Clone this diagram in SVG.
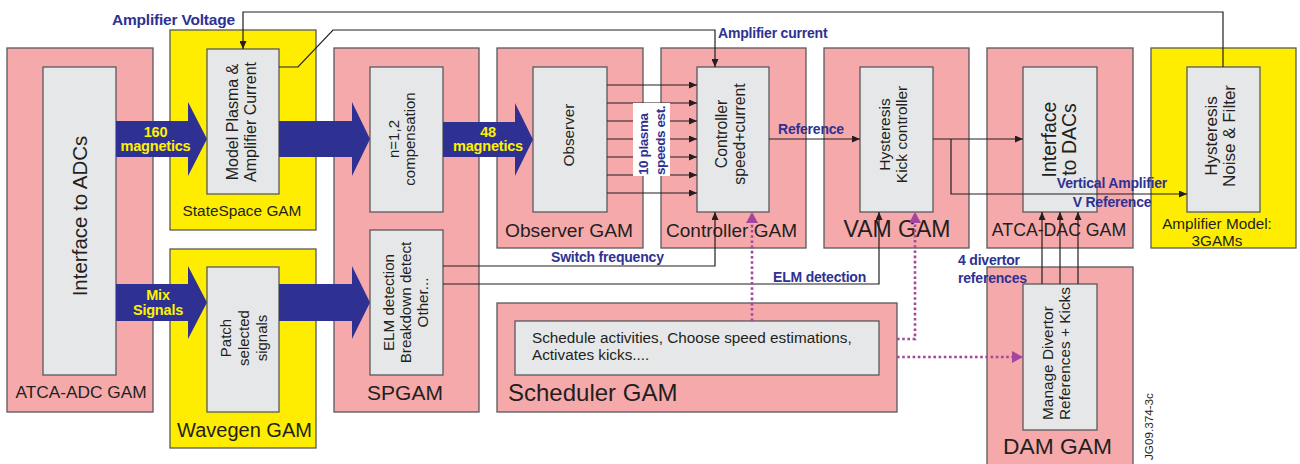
<svg xmlns="http://www.w3.org/2000/svg" width="1300" height="464" viewBox="0 0 1300 464">
<style>
.gam{fill:#F6A9AB;stroke:#58595B;stroke-width:1.3}
.yel{fill:#FFED00;stroke:#58595B;stroke-width:1.3}
.blk{fill:#E6E7E8;stroke:#58595B;stroke-width:1.3}
.big{fill:#2E3192}
.wire{fill:none;stroke:#231F20;stroke-width:1.2;marker-end:url(#ah)}
.dot{fill:none;stroke:#A4479C;stroke-width:2.6;stroke-dasharray:2.6 2.6;marker-end:url(#mh)}
.t{font-family:"Liberation Sans",Arial,sans-serif;fill:#231F20}
.m{text-anchor:middle}
.lbl{font-family:"Liberation Sans",Arial,sans-serif;font-weight:bold;fill:#2E3192;font-size:14px;letter-spacing:-0.2px}
.ylw{font-family:"Liberation Sans",Arial,sans-serif;font-weight:bold;fill:#FFF200;font-size:14.5px;text-anchor:middle;letter-spacing:-0.2px}
</style>
<defs>
<marker id="ah" markerUnits="userSpaceOnUse" markerWidth="8" markerHeight="7" refX="8" refY="3.5" orient="auto"><path d="M0,0 L8,3.5 L0,7 z" fill="#231F20"/></marker>
<marker id="mh" markerUnits="userSpaceOnUse" markerWidth="12" markerHeight="12" refX="11" refY="6" orient="auto"><path d="M0,0 L11,6 L0,12 z" fill="#A4479C"/></marker>
</defs>
<rect width="1300" height="464" fill="#FFFFFF"/>

<g id="atca-adc">
<rect class="gam" x="7" y="48" width="146" height="364"/>
<rect class="blk" x="43" y="67" width="73" height="308"/>
<text class="t m" font-size="20.5" transform="translate(87,216) rotate(-90)">Interface to ADCs</text>
<text class="t m" font-size="17.3" x="81" y="398">ATCA-ADC GAM</text>
</g>

<g id="statespace">
<rect class="yel" x="170" y="30" width="146" height="200"/>
<rect class="blk" x="207" y="49" width="72" height="145"/>
<text class="t m" font-size="16" transform="translate(238,122) rotate(-90)"><tspan x="0" y="0">Model Plasma &amp;</tspan><tspan x="0" dy="18">Amplifier Current</tspan></text>
<text class="t m" font-size="15.4" x="242" y="216">StateSpace GAM</text>
</g>

<g id="wavegen">
<rect class="yel" x="170" y="249" width="146" height="199"/>
<rect class="blk" x="207" y="267" width="72" height="145"/>
<text class="t m" font-size="15" transform="translate(231,338) rotate(-90)"><tspan x="0" y="0">Patch</tspan><tspan x="0" dy="18">selected</tspan><tspan x="0" dy="18">signals</tspan></text>
<text class="t m" font-size="20" x="244.5" y="437">Wavegen GAM</text>
</g>

<g id="spgam">
<rect class="gam" x="334" y="48" width="145" height="364"/>
<rect class="blk" x="370" y="67" width="73" height="145"/>
<text class="t m" font-size="15" transform="translate(399,139) rotate(-90)"><tspan x="0" y="0">n=1,2</tspan><tspan x="0" dy="16">compensation</tspan></text>
<rect class="blk" x="370" y="230" width="73" height="145"/>
<text class="t m" font-size="15.2" transform="translate(394,302.5) rotate(-90)"><tspan x="0" y="0">ELM detection</tspan><tspan x="0" dy="17">Breakdown detect</tspan><tspan x="0" dy="17">Other...</tspan></text>
<text class="t m" font-size="21" x="405" y="400">SPGAM</text>
</g>

<g id="observer">
<rect class="gam" x="497" y="48" width="146" height="200"/>
<rect class="blk" x="533" y="67" width="74" height="145"/>
<text class="t m" font-size="15.3" transform="translate(574,135) rotate(-90)">Observer</text>
<text class="t m" font-size="19.2" x="569" y="237">Observer GAM</text>
</g>

<g id="controller">
<rect class="gam" x="661" y="48" width="145" height="200"/>
<rect class="blk" x="697" y="67" width="72" height="145"/>
<text class="t m" font-size="15.8" transform="translate(727,134) rotate(-90)"><tspan x="0" y="0">Controller</tspan><tspan x="0" dy="18">speed+current</tspan></text>
<text class="t m" font-size="19" x="731.5" y="237">Controller GAM</text>
</g>

<g id="vam">
<rect class="gam" x="824" y="48" width="145" height="200"/>
<rect class="blk" x="860" y="67" width="73" height="145"/>
<text class="t m" font-size="15.5" transform="translate(890,134.5) rotate(-90)"><tspan x="0" y="0">Hysteresis</tspan><tspan x="0" dy="17">Kick controller</tspan></text>
<text class="t m" font-size="23" x="897" y="237">VAM GAM</text>
</g>

<g id="atca-dac">
<rect class="gam" x="987" y="48" width="146" height="200"/>
<rect class="blk" x="1023" y="67" width="74" height="145"/>
<text class="t m" font-size="19.5" transform="translate(1056,139.5) rotate(-90)"><tspan x="0" y="0">Interface</tspan><tspan x="0" dy="20">to DACs</tspan></text>
<text class="t m" font-size="17.7" x="1059" y="236">ATCA-DAC GAM</text>
</g>

<g id="amplifier-model">
<rect class="yel" x="1151" y="48" width="145" height="200"/>
<rect class="blk" x="1187" y="67" width="73" height="145"/>
<text class="t m" font-size="17" transform="translate(1217,136) rotate(-90)"><tspan x="0" y="0">Hysteresis</tspan><tspan x="0" dy="18">Noise &amp; Filter</tspan></text>
<text class="t m" font-size="15.3" x="1217" y="229"><tspan x="1217" y="229">Amplifier Model:</tspan><tspan x="1217" y="246">3GAMs</tspan></text>
</g>

<g id="scheduler">
<rect class="gam" x="497" y="303" width="400" height="109"/>
<rect class="blk" x="515" y="321" width="364" height="54"/>
<text class="t" font-size="15.3" x="532" y="343"><tspan x="532" y="343">Schedule activities, Choose speed estimations,</tspan><tspan x="532" y="360">Activates kicks....</tspan></text>
<text class="t" font-size="24" x="508" y="401">Scheduler GAM</text>
</g>

<g id="dam">
<rect class="gam" x="987" y="267" width="146" height="205"/>
<rect class="blk" x="1023" y="284" width="74" height="146"/>
<text class="t" font-size="15.4" transform="translate(1053,420) rotate(-90)"><tspan x="0" y="0">Manage Divertor</tspan><tspan x="0" dy="17">References + Kicks</tspan></text>
<text class="t m" font-size="22.8" x="1057.5" y="454">DAM GAM</text>
</g>

<g id="connectors">
<polygon class="big" points="116,121 188,121 188,102 207,139 188,176 188,157 116,157"/>
<polygon class="big" points="279,121 352,121 352,102 370,139 352,176 352,157 279,157"/>
<polygon class="big" points="443,122 515,122 515,103 533,139.5 515,176 515,157 443,157"/>
<polygon class="big" points="116,284 188,284 188,266 207,302.5 188,339 188,321 116,321"/>
<polygon class="big" points="279,284 352,284 352,266 370,302.5 352,339 352,321 279,321"/>
<path class="wire" d="M1223,67 V12 H243 V49"/>
<path class="wire" d="M279,67 H298 L333,30 H715 V67"/>
<path class="wire" d="M607,85 H697"/>
<path class="wire" d="M607,103 H697"/>
<path class="wire" d="M607,121 H697"/>
<path class="wire" d="M607,139 H697"/>
<path class="wire" d="M607,157 H697"/>
<path class="wire" d="M607,175 H697"/>
<path class="wire" d="M607,193 H697"/>
<path class="wire" d="M769,139 H860"/>
<path class="wire" d="M933,139 H1023"/>
<path class="wire" d="M951,139 V194 H1187"/>
<path class="wire" d="M443,266 H715 V212"/>
<path class="wire" d="M443,284 H879 V212"/>
<path class="wire" d="M1042,284 V212"/>
<path class="wire" d="M1060,284 V212"/>
<path class="wire" d="M1078,284 V212"/>
<path class="dot" d="M752,321 V212"/>
<path class="dot" d="M897,339 H915 V212"/>
<path class="dot" d="M897,357 H1023"/>
<rect x="633" y="103" width="37" height="73" fill="#FFFFFF"/>
<text class="lbl" style="font-size:13.5px;letter-spacing:-0.4px" transform="translate(648,175) rotate(-90)"><tspan x="0" y="0">10 plasma</tspan><tspan x="0" dy="17">speeds est.</tspan></text>
<text class="ylw" x="155.5" y="137">160</text>
<text class="ylw" x="155.5" y="151">magnetics</text>
<text class="ylw" x="488" y="137">48</text>
<text class="ylw" x="488" y="151">magnetics</text>
<text class="ylw" x="158" y="300">Mix</text>
<text class="ylw" x="158" y="315">Signals</text>
<text class="lbl" style="font-size:15.5px" x="112" y="25">Amplifier Voltage</text>
<text class="lbl" x="718" y="38">Amplifier current</text>
<text class="lbl" x="778" y="134">Reference</text>
<text class="lbl" x="551" y="262">Switch frequency</text>
<text class="lbl" x="773" y="282">ELM detection</text>
<text class="lbl" text-anchor="middle" x="1112" y="188">Vertical Amplifier</text>
<text class="lbl" text-anchor="middle" x="1112" y="207">V Reference</text>
<text class="lbl" x="958" y="265">4 divertor</text>
<text class="lbl" x="958" y="283">references</text>
</g>
<text class="t" font-size="11.7" transform="translate(1153,460) rotate(-90)">JG09.374-3c</text>
</svg>
